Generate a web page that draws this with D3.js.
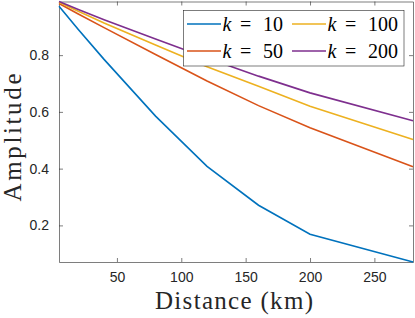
<!DOCTYPE html>
<html lang="en">
<head>
  <meta charset="utf-8">
  <title>Amplitude vs distance</title>
  <script src="https://cdn.jsdelivr.net/npm/d3@7"></script>
  <style>
    body { margin: 0; background: #fff; }
    .axis text { font-family: "Liberation Sans", Arial, sans-serif; font-size: 14px; fill: #262626; }
    .axis line, .axis path { stroke: #262626; stroke-width: 0.6; }
    .label { font-family: "Liberation Serif", "Times New Roman", serif; fill: #262626; }
    .series { fill: none; stroke-width: 1.6; }
    .legend text { font-family: "Liberation Serif", serif; font-size: 20px; fill: #000; }
  </style>
</head>
<body>
  <div id="chart"></div>
  <script>
    // distance samples (km)
    var distance = [5, 20, 40, 80, 120, 160, 200, 280];
    // amplitude for each k
    var amp10  = [0.972, 0.890, 0.785, 0.585, 0.408, 0.271, 0.169, 0.071];
    var amp50  = [0.982, 0.945, 0.897, 0.802, 0.709, 0.622, 0.544, 0.407];
    var amp100 = [0.986, 0.955, 0.913, 0.836, 0.759, 0.690, 0.620, 0.503];
    var amp200 = [0.989, 0.961, 0.925, 0.857, 0.790, 0.726, 0.667, 0.569];
    var kValues = ["10", "50", "100", "200"];
    var colors = ["#0072BD", "#D95319", "#EDB120", "#7E2F8E"];
    var xTicks = [50, 100, 150, 200, 250];
    var yTicks = [0.2, 0.4, 0.6, 0.8];

    var W = 415, H = 318;
    var mLeft = 59, mRight = 413, mTop = 1.5, mBottom = 262;

    var svg = d3.select("#chart").append("svg")
      .attr("width", W)
      .attr("height", H);

    var series = [amp10, amp50, amp100, amp200];

    var xScale = d3.scaleLinear()
      .domain(d3.extent(distance))
      .range([mLeft, mRight]);

    var yScale = d3.scaleLinear()
      .domain(d3.extent(d3.merge(series)))
      .range([mBottom, mTop]);

    // axes (ticks inside, mirrored on top and right)
    svg.append("g").attr("class", "axis")
      .attr("transform", "translate(0," + mBottom + ")")
      .call(d3.axisBottom(xScale).tickValues(xTicks).tickSizeInner(-4).tickSizeOuter(0).tickPadding(10));
    svg.append("g").attr("class", "axis")
      .attr("transform", "translate(0," + mTop + ")")
      .call(d3.axisTop(xScale).tickValues(xTicks).tickSizeInner(-4).tickSizeOuter(0).tickFormat(""));
    svg.append("g").attr("class", "axis")
      .attr("transform", "translate(" + mLeft + ",0)")
      .call(d3.axisLeft(yScale).tickValues(yTicks).tickSizeInner(-4).tickSizeOuter(0).tickPadding(10).tickFormat(d3.format(".1f")));
    svg.append("g").attr("class", "axis")
      .attr("transform", "translate(" + mRight + ",0)")
      .call(d3.axisRight(yScale).tickValues(yTicks).tickSizeInner(-4).tickSizeOuter(0).tickFormat(""));

    // lines
    var line = d3.line()
      .x(function (d, i) { return xScale(distance[i]); })
      .y(function (d) { return yScale(d); });

    series.forEach(function (s, i) {
      svg.append("path")
        .attr("class", "series")
        .attr("stroke", colors[i])
        .attr("d", line(s));
    });

    // axis labels
    svg.append("text").attr("class", "label")
      .attr("x", 234)
      .attr("y", 309)
      .attr("text-anchor", "middle")
      .attr("font-size", 25)
      .attr("textLength", 158)
      .attr("lengthAdjust", "spacing")
      .text("Distance (km)");

    svg.append("text").attr("class", "label")
      .attr("transform", "translate(20.5,137.5) rotate(-90)")
      .attr("text-anchor", "middle")
      .attr("font-size", 25)
      .attr("textLength", 128)
      .attr("lengthAdjust", "spacing")
      .text("Amplitude");

    // legend: two columns, column-major
    var legend = svg.append("g").attr("class", "legend");
    legend.append("rect")
      .attr("x", 183.5).attr("y", 10.5)
      .attr("width", 220.5).attr("height", 55.5)
      .attr("fill", "#fff")
      .attr("stroke", "#262626")
      .attr("stroke-width", 0.6);

    var colX = [187, 292];
    var rowY = [24, 51];
    kValues.forEach(function (k, i) {
      var cx = colX[Math.floor(i / 2)], cy = rowY[i % 2];
      var g = legend.append("g").attr("transform", "translate(" + cx + "," + cy + ")");
      g.append("line")
        .attr("x1", 0).attr("x2", 34)
        .attr("y1", 0).attr("y2", 0)
        .attr("stroke", colors[i])
        .attr("stroke-width", 1.6);
      g.append("text").attr("x", 35.5).attr("y", 7)
        .attr("font-style", "italic").text("k");
      g.append("text").attr("x", 53).attr("y", 7).text("=");
      g.append("text").attr("x", 76).attr("y", 7).text(k);
    });
  </script>
</body>
</html>
